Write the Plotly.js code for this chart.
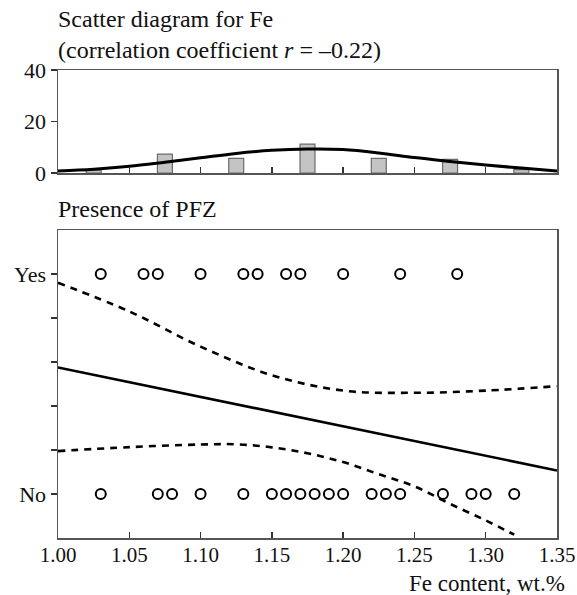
<!DOCTYPE html>
<html>
<head>
<meta charset="utf-8">
<script src="https://cdn.plot.ly/plotly-3.0.1.min.js"></script>
<style>html,body{margin:0;padding:0;background:#fff;}#chart{width:577px;height:595px;}</style>
</head>
<body>
<div id="chart"></div>
<script>
// Histogram of Fe content (top panel)
const binCenters = [1.025, 1.075, 1.125, 1.175, 1.225, 1.275, 1.325];
const binCounts  = [1.1, 7.3, 5.7, 11.2, 5.7, 5.3, 1.3];
// Fitted normal curve
const curveX = [1.000, 1.025, 1.050, 1.075, 1.100, 1.125, 1.150, 1.175, 1.200, 1.225, 1.250, 1.275, 1.300, 1.325, 1.350];
const curveY = [0.8,   1.5,   2.6,   4.2,   5.9,   7.6,   8.8,   9.3,   9.1,   7.8,   6.0,   4.5,   3.1,   1.9,   0.8];

// Presence of PFZ (bottom panel): 1 = Yes, 0 = No
const yesX = [1.03, 1.06, 1.07, 1.10, 1.13, 1.14, 1.16, 1.17, 1.20, 1.24, 1.28];
const noX  = [1.03, 1.07, 1.08, 1.10, 1.13, 1.15, 1.16, 1.17, 1.18, 1.19, 1.20, 1.22, 1.23, 1.24, 1.27, 1.29, 1.30, 1.32];
// Regression line and confidence band
const fitX = [1.00, 1.35];
const fitY = [0.575, 0.107];
const upperX = [1.00, 1.05, 1.10, 1.15, 1.20, 1.25, 1.30, 1.35];
const upperY = [0.96, 0.83, 0.67, 0.54, 0.47, 0.46, 0.47, 0.49];
const lowerX = [1.00, 1.05, 1.10, 1.125, 1.15, 1.175, 1.20, 1.225, 1.25, 1.275, 1.30, 1.32];
const lowerY = [0.195, 0.213, 0.225, 0.226, 0.212, 0.185, 0.145, 0.09, 0.035, -0.045, -0.12, -0.185];

const yTicksBottom = [0, 0.2, 0.4, 0.6, 0.8, 1.0];
const yTickTextBottom = ['No', '', '', '', '', 'Yes'];
const yTicksTop = [0, 20, 40];

const FONT = 'Liberation Serif, Times New Roman, serif';
const H = 595;
const dom = (topPx, botPx) => [1 - botPx / H, 1 - topPx / H];

const traces = [
  {x: binCenters, y: binCounts, type: 'bar', width: 0.0105, xaxis: 'x', yaxis: 'y',
   marker: {color: '#c4c4c4', line: {color: '#6a6a6a', width: 1.2}}, hoverinfo: 'skip'},
  {x: curveX, y: curveY, type: 'scatter', mode: 'lines', xaxis: 'x', yaxis: 'y',
   line: {color: '#000', width: 3, shape: 'spline'}},
  {x: fitX, y: fitY, type: 'scatter', mode: 'lines', xaxis: 'x2', yaxis: 'y2',
   line: {color: '#000', width: 2.6}},
  {x: upperX, y: upperY, type: 'scatter', mode: 'lines', xaxis: 'x2', yaxis: 'y2',
   line: {color: '#000', width: 2.6, dash: '7px,6px', shape: 'spline'}},
  {x: lowerX, y: lowerY, type: 'scatter', mode: 'lines', xaxis: 'x2', yaxis: 'y2',
   line: {color: '#000', width: 2.6, dash: '7px,6px', shape: 'spline'}},
  {x: yesX, y: yesX.map(() => 1), type: 'scatter', mode: 'markers', xaxis: 'x2', yaxis: 'y2',
   marker: {symbol: 'circle-open', size: 10, color: '#000', line: {width: 2, color: '#000'}}},
  {x: noX, y: noX.map(() => 0), type: 'scatter', mode: 'markers', xaxis: 'x2', yaxis: 'y2',
   marker: {symbol: 'circle-open', size: 10, color: '#000', line: {width: 2, color: '#000'}}}
];

const axisCommon = {
  showgrid: false, zeroline: false, showline: true, mirror: true,
  linecolor: '#555', linewidth: 1.5, tickcolor: '#333', tickwidth: 1.5,
  tickfont: {family: FONT, size: 22, color: '#111'}, fixedrange: true
};

const layout = {
  width: 577, height: 595,
  margin: {l: 58, r: 20, t: 0, b: 0},
  paper_bgcolor: '#fff', plot_bgcolor: '#fff',
  showlegend: false,
  bargap: 0,
  font: {family: FONT, size: 22, color: '#111'},
  xaxis: Object.assign({}, axisCommon, {
    anchor: 'y', range: [1, 1.35], dtick: 0.05, tick0: 1, ticks: 'inside', ticklen: 6,
    showticklabels: false
  }),
  yaxis: Object.assign({}, axisCommon, {
    anchor: 'x', domain: dom(70, 173), range: [0, 40], tickvals: yTicksTop,
    ticks: 'outside', ticklen: 6
  }),
  xaxis2: Object.assign({}, axisCommon, {
    anchor: 'y2', range: [1, 1.35], dtick: 0.05, tick0: 1, tickformat: '.2f',
    ticks: 'inside', ticklen: 6, ticklabelstandoff: -3,
    tickfont: {family: FONT, size: 21, color: '#111'}
  }),
  yaxis2: Object.assign({}, axisCommon, {
    anchor: 'x2', domain: dom(230, 538), range: [-0.2, 1.2], tickvals: yTicksBottom,
    ticktext: yTickTextBottom, ticks: 'outside', ticklen: 6
  }),
  annotations: [
    {text: 'Scatter diagram for Fe<br>(correlation coefficient <i>r</i> = –0.22)',
     xref: 'paper', yref: 'paper', x: -0.004, y: 1 - 4 / H, xanchor: 'left', yanchor: 'top',
     align: 'left', showarrow: false, font: {family: FONT, size: 24, color: '#111'}},
    {text: 'Presence of PFZ', xref: 'paper', yref: 'paper', x: -0.004, y: 1 - 194 / H,
     xanchor: 'left', yanchor: 'top', align: 'left', showarrow: false,
     font: {family: FONT, size: 24, color: '#111'}},
    {text: 'Fe content, wt.%', xref: 'paper', yref: 'paper', x: 1.018, y: -2 / H,
     xanchor: 'right', yanchor: 'bottom', showarrow: false, borderpad: 0,
     font: {family: FONT, size: 23, color: '#111'}}
  ]
};

Plotly.newPlot('chart', traces, layout, {displayModeBar: false, staticPlot: true});
</script>
</body>
</html>
